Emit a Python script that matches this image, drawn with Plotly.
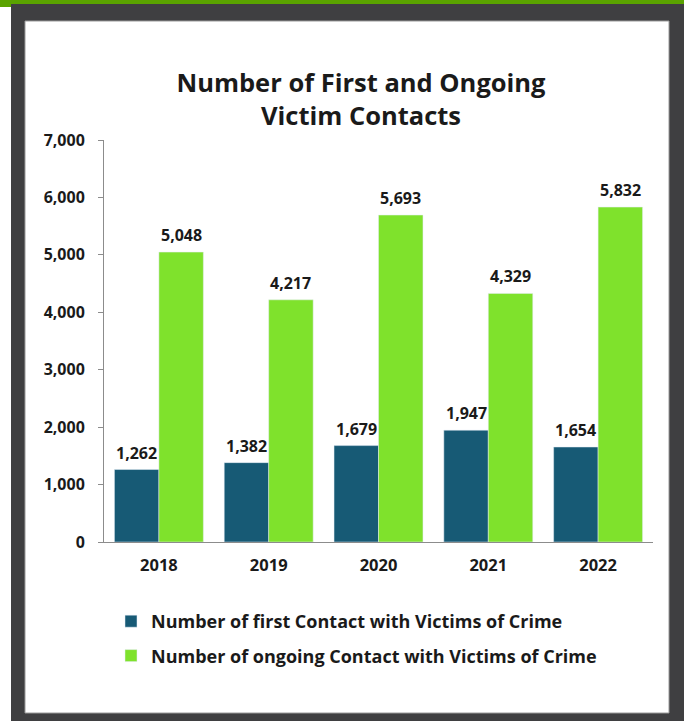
import plotly.graph_objects as go

# Chart data
years = ["2018", "2019", "2020", "2021", "2022"]
first_contact = [1262, 1382, 1679, 1947, 1654]
ongoing_contact = [5048, 4217, 5693, 4329, 5832]
series_names = [
    "Number of first Contact with Victims of Crime",
    "Number of ongoing Contact with Victims of Crime",
]
y_ticks = [0, 1000, 2000, 3000, 4000, 5000, 6000, 7000]

W, H = 684, 721
L, R, T, B = 104, 31, 140, 179
PW, PH = W - L - R, H - T - B

FONT = "Open Sans"
DARK = "#175a75"
GREEN = "#7fe22c"
TXT = "#1a1a1a"
BARGAP = 0.19


def px_x(p):
    return (p - L) / PW


def px_y(p):
    return (H - B - p) / PH


fig = go.Figure()
fig.add_trace(go.Bar(x=years, y=first_contact, name=series_names[0],
                     marker_color=DARK, legendgroup="a"))
fig.add_trace(go.Bar(x=years, y=ongoing_contact, name=series_names[1],
                     marker_color=GREEN, legendgroup="b"))

# value labels above each bar, shifted onto the matching bar of the group
# (positioned by category index on the category axis)
half_bar = PW / len(years) * (1 - BARGAP) / 4
annotations = []
for values, shift in ((first_contact, -half_bar), (ongoing_contact, half_bar)):
    for i, v in enumerate(values):
        annotations.append(dict(
            x=i, y=v, xref="x", yref="y", text=f"{v:,}", showarrow=False,
            xshift=shift, yshift=17, yanchor="middle", xanchor="center",
            font=dict(family=FONT, size=16, color=TXT, weight="bold"),
        ))

shapes = [
    # green strip along the top edge
    dict(type="rect", xref="paper", yref="paper", x0=px_x(0), x1=px_x(W),
         y0=px_y(0), y1=px_y(4), fillcolor="#5aa300", line_width=0, layer="below"),
    dict(type="rect", xref="paper", yref="paper", x0=px_x(0), x1=px_x(11),
         y0=px_y(0), y1=px_y(7), fillcolor="#5aa300", line_width=0, layer="below"),
    # dark frame
    dict(type="rect", xref="paper", yref="paper", x0=px_x(11), x1=px_x(W),
         y0=px_y(4), y1=px_y(H), fillcolor="#3f3f41", line_width=0, layer="below"),
    # white card
    dict(type="rect", xref="paper", yref="paper", x0=px_x(25), x1=px_x(669),
         y0=px_y(21), y1=px_y(713), fillcolor="white",
         line=dict(color="#9a9a9a", width=1), layer="below"),
]

fig.update_layout(
    width=W, height=H,
    margin=dict(l=L, r=R, t=T, b=B, autoexpand=False),
    paper_bgcolor="white", plot_bgcolor="rgba(0,0,0,0)",
    barmode="group", bargap=BARGAP, bargroupgap=0,
    shapes=shapes, annotations=annotations,
    title=dict(
        text="Number of First and Ongoing<br>Victim Contacts",
        xref="container", yref="container",
        x=361 / W, xanchor="center", y=1 - 92 / H, yanchor="top",
        font=dict(family=FONT, size=25.5, color=TXT, weight="bold"),
    ),
    font=dict(family=FONT, color=TXT),
    xaxis=dict(
        type="category", range=[-0.5, len(years) - 0.5],
        showline=True, linecolor="#8c8c8c", linewidth=1, ticks="",
        tickfont=dict(family=FONT, size=16.5, color=TXT, weight="bold"),
        ticklabelstandoff=8, showgrid=False, zeroline=False,
    ),
    yaxis=dict(
        range=[0, 7000], tickvals=y_ticks, tickformat=",",
        showline=True, linecolor="#8c8c8c", linewidth=1,
        ticks="outside", ticklen=5, tickcolor="#8c8c8c",
        tickfont=dict(family=FONT, size=16, color=TXT, weight="bold"),
        ticklabelstandoff=10, showgrid=False, zeroline=False,
    ),
    legend=dict(
        x=px_x(111), y=px_y(603), xanchor="left", yanchor="top",
        orientation="v", traceorder="grouped", tracegroupgap=8,
        bgcolor="rgba(0,0,0,0)",
        font=dict(family=FONT, size=18, color=TXT, weight="bold"),
        itemwidth=30,
    ),
)

fig.write_html("out.html")
